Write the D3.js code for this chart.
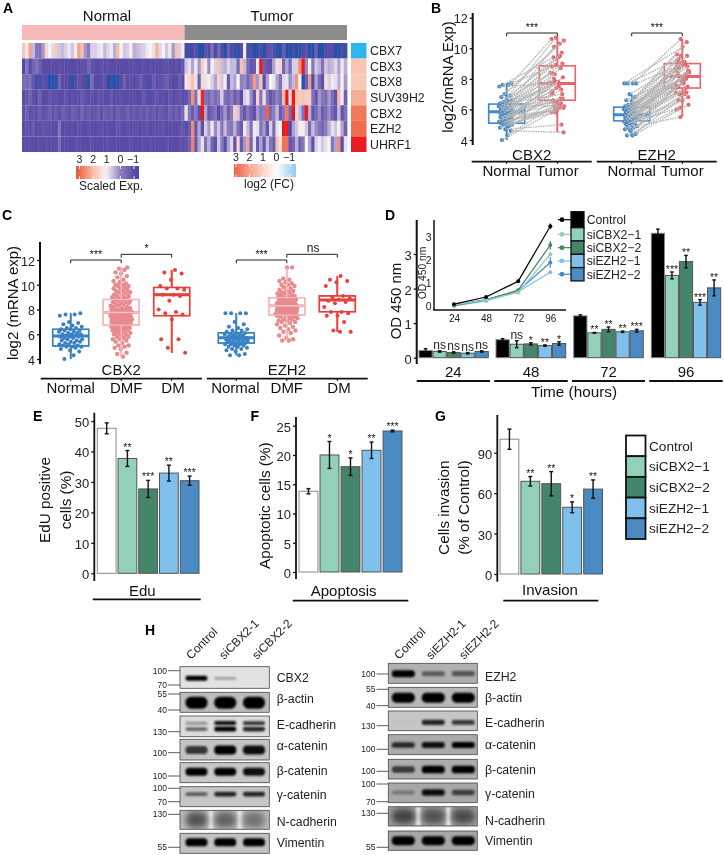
<!DOCTYPE html>
<html><head><meta charset="utf-8">
<script src="https://cdn.jsdelivr.net/npm/d3@7"></script>
<style>body{margin:0;background:#fff}svg{display:block;font-family:"Liberation Sans",Arial,sans-serif;filter:blur(.3px)}</style>
</head><body><script>
// ---------- DATA ----------
const genes=["CBX7","CBX3","CBX8","SUV39H2","CBX2","EZH2","UHRF1"];
const hmCBX7=[1.8,1,2.3,.5,-.2,-.3,.2,1.6,1.1,.8,1.8,.6,.5,.7,1,.6,1.2,2.3,1.9,.2,-.1,.7,.7,.9,1,.5,.8,1,.4,2,1.1,.6,.7,1.2,.4,.5,.6,.7,1,1.1,.9,2.1,.8,1.1,.6,1,.2,1.9,.7,1.2,
 -1.4,-1.4,-1.2,-1,-1.9,-1.9,-.9,-1.2,-.3,-1.2,-.5,-1.4,-1.9,-.6,-1.2,-1.7,-1.6,-1.1,1.2,-1.4,-1.2,-1.9,-1.6,-1.3,-1.8,-.9,-.8,-1.2,-1.7,-1.7,-.7,-1.9,-1.9,-1.3,-1.9,-1.7,-1.2,-.9,-1.9,-1.9,-.6,-1.9,-1.8,-1.2,-1,-1,-1.9,-1.8,-1.2,-1.5];
const hmCBX3=[-1.2,-.2,-1,-.5,-.3,-.7,-1,-1,-1,-1,-1,-.9,-1,-1,-1,-1.1,-1,-1,-.9,-.9,-.5,-.9,-1,-1,-.9,-1,-.9,-1,-1,-1,-1,-1,-1,-1,-.9,-1,-1,-1,-1,-.9,-1,-1,-1.1,-.9,-.9,-1,-1,-.9,-1,-.8,
 .6,.9,.3,1,.2,1.7,1,.1,1.1,.7,1.9,.5,.4,.8,.5,.5,-.4,1.9,.5,-.4,-.8,-.7,1.3,4.2,-.6,-.8,-.9,.3,.9,1.6,-.5,.3,-.4,.7,.7,2.6,4.2,.1,1.2,-.2,.6,.4,-.3,.6,.4,.5,.8,.3,1,.4];
const hmCBX8=[-.4,-.5,-.3,-.8,-1.5,-1.4,-.9,-1,-1.8,-1.9,-1.6,-.5,-1,-1,-1.2,-1.7,-1,-.9,-1,-1.2,-1.6,-.4,-1,-1.1,-1,-.9,-1.8,-1.4,-1.8,-1.7,-1,-.6,-1.1,-.9,-1,-.9,-.7,-1,-1.2,-1.1,-.7,-1,-.9,-.8,-.6,-.9,-1.1,-1,-.7,-1,
 1.3,1.5,1.9,.9,-.6,1.5,.9,1.2,.7,.3,1.6,.6,1.2,-.7,.5,.3,1.1,0,.1,-.5,0,2.4,.2,1.8,-.9,.3,1.1,.9,.3,-.3,.8,.9,.1,.5,2.5,1.2,-1.8,-.6,2.4,-1.2,.3,-.4,-.9,1.4,.7,1,.9,.4,1.2,.2];
const hmSUV=[-1,-.8,-.5,-.9,-1,-.6,-1,-1,-.8,-1,-.9,-1,-1,-.8,-1.1,-.9,-1,-1,-.7,-.9,-1,-.9,-1.1,-.8,-.9,-1.1,-1,-.7,-1,-1,-.9,-1,-1,-1,-.9,-1.1,-1,-.8,-1,-1.1,-.9,-.8,-1,-.9,-1.1,-.8,-1,-.9,-.8,-1,
 -.9,-.4,2.5,-.3,1.5,3.8,-.3,-.5,0,-.4,-.1,.7,-.3,-.5,-.1,-.7,-.3,-1,.7,.9,.1,-.8,1.6,-.2,.9,-.2,-.8,-.5,0,-.4,2,4,.8,4.1,1.9,1.8,1.8,1.7,1.7,-.3,-.8,.2,-.2,-.4,.2,-.3,-.9,2,1,-.6];
const hmCBX2=[-.9,-.6,-.9,-.8,-.9,-.7,-.9,-.8,-.6,-.9,-.7,-.9,-.6,-.8,-.9,-.6,-.7,-.9,-.5,-.8,-.7,-.9,-.8,-.6,-.9,-.7,-.8,-.6,-.9,-.7,-.8,-.8,-.6,-.9,-.7,-.8,-.7,-.9,-.6,-.8,-.7,-.9,-.7,-.8,-.9,-.6,-.8,-.6,-.8,-.5,
 .9,-.2,-.7,-.1,-.9,4.2,.3,-.8,-.5,-.2,-1,-.4,.2,-.6,-.1,1.7,.6,-.3,-.8,-.2,-.6,-.9,.2,-.3,-.1,3.1,-.4,-.1,.5,-.7,-.2,2.8,-.4,4.3,.8,.5,-.3,4,.4,-.8,-.4,.1,-.7,-.4,.1,-.5,-.8,.5,-.8,-.3];
const hmEZH2=[-1,-.9,-.9,-.7,-1,-1,-.8,-.9,-.9,-1,-1,-.2,-1,-1,-1,-.9,-1,-.9,-1,-1,-.9,-1,-1,-.9,-.9,-1,-.9,-1,-1,-.8,-.9,-1,-.9,-1,-.9,-.9,-1,-1,-.8,-1,-.9,-1,-.9,-.8,-1,-1,-.9,-1,-.9,-.8,
 -1,-.7,2.6,-.8,.3,-.9,.7,.2,1.3,.1,.6,-.2,.5,-.1,-.2,.4,-.3,-.7,1.3,.5,-.3,1,.9,-.2,.2,-.8,.7,-.4,.9,1.1,4.5,4.5,-1.2,.3,.6,1.2,1.2,.6,-.4,.5,.1,-.2,-.5,-.1,.4,.9,.6,1.2,.3,-.6];
const hmUHRF1=[-1,-1,-.9,-1,-1,-1,-1,-.9,-1,-1,-1,-.3,-1,-1,-1,-1,-.9,-1,-1,-1,-1,-.9,-1,-1,-1,-1,-.9,-1,-1,-1,-1,-1,-1,-.9,-1,-1,-1,-1,-1,-.9,-1,-1,-1,-1,-.9,-1,-1,-1,-.9,-1,
 -.9,-.5,2.7,-.8,.3,.9,-.3,.4,-.5,-.9,.6,-.1,-1,.3,.8,-.9,1.6,-.7,.2,2.3,-.5,.9,-.7,.3,-.8,.5,-.2,-.7,1.9,1.4,2.9,2.9,-.8,-.5,.4,-.6,-.2,1.1,.3,-.9,.7,1,.6,.9,1.1,-.2,.3,2.6,-1,.9];
const hmRows=[hmCBX7,hmCBX3,hmCBX8,hmSUV,hmCBX2,hmEZH2,hmUHRF1];
const hmTicks=[3,2,1,0,-1];

const cbx2Normal=[4.3,4.0,4.6,4.7,4.8,4.9,5,5,5,5.1,5.1,5.2,5.2,5.3,5.3,5.4,5.4,5.5,5.5,5.6,5.6,5.7,5.7,5.8,5.8,5.8,5.9,5.9,6,6,6,6.1,6.1,6.2,6.2,6.3,6.3,6.4,6.4,6.5,6.5,6.6,6.7,6.8,6.9,7,7.5,7.6,7.6,7.7];
const cbx2Tumor=[6.2,5.8,4.5,5.0,6.1,6.3,5.8,6.5,7,6.1,7.3,6.2,7.7,6,6.6,7.7,8.1,6.4,7.5,5.9,8.3,7,7.7,6.7,8.7,9.4,6.5,7.9,7.2,8.4,9,6.7,7.8,7.4,10.1,8.8,6.2,7,9.5,7.7,10.7,8,8.4,10.5,9.7,10.3,7.7,8.9,9.4,10.6];
const ezh2Normal=[4.3,4.3,4.4,4.6,4.7,4.8,4.8,4.9,5,5,5.1,5.1,5.2,5.2,5.2,5.3,5.3,5.4,5.4,5.4,5.5,5.5,5.5,5.6,5.6,5.6,5.7,5.7,5.7,5.8,5.8,5.9,5.9,6,6,6,6.1,6.1,6.2,6.3,6.3,6.4,6.5,6.6,6.8,7,7.7,7.7,7.7,7.7];
const ezh2Tumor=[6.6,6.0,6.3,7.1,7,6.6,5.5,7.5,7.4,6.8,8,7.3,7.7,6.1,8.2,7.1,8.5,7.4,7.9,8,7,8.4,8.6,7.5,8.9,7.7,8,9,8.2,7.6,8.8,8.3,9.1,7.9,8.7,9.2,8.4,9.5,8.1,8.9,9.5,9,9.6,8.5,10.4,9.1,10.1,10.6,9.3,8.8];
// box stats: [whisker low, q1, median, q3, whisker high]
const boxCbx2Paired=[[4,5.1,5.85,6.35,7.7],[4.5,6.6,7.7,8.85,10.7]];
const boxEzh2Paired=[[4.3,5.25,5.65,6.15,7.0],[5.5,7.4,8.15,9,10.6]];

const cbx2DMF=[4.2,4.4,4.5,4.8,4.9,5.0,5.1,5.1,5.3,5.4,5.5,5.6,5.6,5.7,5.8,5.8,5.9,6.0,6.0,6.1,6.1,6.2,6.2,6.3,6.3,6.3,6.4,6.4,6.5,6.5,6.5,6.6,6.6,6.6,6.7,6.7,6.7,6.8,6.8,6.8,6.9,6.9,6.9,6.9,7.0,7.0,7.0,7.0,7.1,7.1,7.1,7.1,7.2,7.2,7.2,7.2,7.3,7.3,7.3,7.3,7.4,7.4,7.4,7.4,7.5,7.5,7.5,7.5,7.6,7.6,7.6,7.7,7.7,7.7,7.8,7.8,7.8,7.9,7.9,7.9,8.0,8.0,8.0,8.1,8.1,8.2,8.2,8.3,8.3,8.4,8.4,8.5,8.5,8.6,8.6,8.7,8.7,8.8,8.8,8.9,8.9,9.0,9.0,9.1,9.1,9.2,9.2,9.3,9.4,9.4,9.5,9.5,9.6,9.7,9.7,9.8,9.9,9.9,10,10,10.1,10.2,10.3,10.4,10.6,10.7,10.9,11,11.2,11.3,11.4];
const cbx2DM=[11.2,11,10.9,10.4,9.9,9.7,9.7,9.6,9.2,9.2,9.1,8.7,8,7.8,7.7,7.6,7.2,5.6,5.6,4.9,4.5];
const ezh2DMF=[5.5,5.5,5.6,5.7,5.9,6.1,6.2,6.3,6.4,6.5,6.6,6.7,6.8,6.9,7.0,7.0,7.1,7.1,7.2,7.2,7.3,7.3,7.4,7.4,7.5,7.5,7.5,7.6,7.6,7.6,7.7,7.7,7.7,7.7,7.8,7.8,7.8,7.8,7.9,7.9,7.9,7.9,8.0,8.0,8.0,8.0,8.0,8.1,8.1,8.1,8.1,8.2,8.2,8.2,8.2,8.2,8.3,8.3,8.3,8.3,8.4,8.4,8.4,8.4,8.5,8.5,8.5,8.5,8.6,8.6,8.6,8.7,8.7,8.7,8.8,8.8,8.8,8.9,8.9,8.9,9.0,9.0,9.0,9.1,9.1,9.2,9.2,9.3,9.3,9.4,9.4,9.5,9.5,9.6,9.7,9.8,9.9,10,10,10.1,10.2,10.3,10.4,10.5,11.4,11.4];
const ezh2DM=[10.7,10.4,10.3,10.2,9.9,9.1,9.0,8.9,8.8,8.7,8.6,8.5,8.2,7.8,7.8,7.7,7.5,7.5,7,6.3,6.2,6.2];
const groupsC=["Normal","DMF","DM"];
const boxCbx2C=[[4,5.05,5.85,6.4,7.7],[4.2,6.74,7.76,8.81,11.4],[4.5,7.5,9.2,9.78,11.2]];
const boxEzh2C=[[4.3,5.29,5.72,6.12,7.7],[5.5,7.55,8.3,8.95,11.4],[6.2,7.82,8.76,9.1,10.7]];

const arms=["Control","siCBX2\u22121","siCBX2\u22122","siEZH2\u22121","siEZH2\u22122"];
const times=[24,48,72,96];
const odMeans=[[.21,.18,.15,.13,.18],[.52,.39,.40,.35,.41],[1.21,.72,.82,.75,.78],[3.6,2.38,2.78,1.6,2.02]];
const odErrs=[[.05,.02,.02,.02,.02],[.03,.1,.03,.02,.05],[.03,.01,.07,.02,.04],[.12,.1,.18,.08,.23]];
const odSig=[["","ns","ns","ns","ns"],["","ns","*","**","*"],["","**","**","**","***"],["","***","**","***","**"]];
const eduMeans=[47.6,37.7,27.7,32.9,30.4], eduErrs=[1.8,2.6,2.8,2.6,1.5], eduSig=["","**","***","**","***"];
const apoMeans=[13.8,20,18,20.8,24.1], apoErrs=[.45,2.3,1.5,1.4,.15], apoSig=["","*","*","**","***"];
const invMeans=[100,68.8,67,49.5,63], invErrs=[7.5,3.5,9,4,6.8], invSig=["","**","**","*","**"];

// western blots: band darkness per lane (0 none .. 1 black)
const blotLeftNames=["CBX2","\u03b2-actin","E-cadherin","\u03b1-catenin","\u03b2-catenin","\u03b3-catenin","N-cadherin","Vimentin"];
const blotRightNames=["EZH2","\u03b2-actin","E-cadherin","\u03b1-catenin","\u03b2-catenin","\u03b3-catenin","N-cadherin","Vimentin"];
const blotLeftDark=[[1,.3,0],[1,1,1],[.55,1,.85],[.75,1,.95],[1,1,.95],[.55,.85,.85],[.58,.48,.4],[1,1,1]];
const blotLeftUpper=[null,null,[.35,.95,.8],null,null,null,null,null];
const blotRightDark=[[1,.5,.55],[1,1,1],[.03,.85,.75],[.8,.95,1],[.7,1,1],[.3,.95,.65],[.6,.5,.55],[1,1,1]];
const lanesLeft=["Control","siCBX2-1","siCBX2-2"], lanesRight=["Control","siEZH2-1","siEZH2-2"];
const mwLeftText=["100","70","55","40","130","100","100","100","70","130","55"];
const mwRightText=["100","55","40","130","100","100","100","70","130","55"];

// ---------- LAYOUT / STYLE ----------
const geneColors=["#2db5ee","#f9c4b0","#f9c9b8","#f6ae98","#f07a58","#ef6d4e","#e81c24"];
const armColors=["#000000","#93d0b8","#45866b","#7fc1ec","#4a8bc3"];
const jit=(i,w)=>(((i+1)*0.61803398875)%1-.5)*2*w;   // visual spread only

const svg=d3.select("body").append("svg").attr("width",724).attr("height",855);
const defs=svg.append("defs");
function T(g,x,y,s,o={}){
  const t=g.append("text").attr("x",x).attr("y",y).text(s)
    .attr("font-size",o.size||12).attr("text-anchor",o.anchor||"start").attr("fill",o.fill||"#111");
  if(o.weight)t.attr("font-weight",o.weight);
  if(o.rot!==undefined)t.attr("x",null).attr("y",null).attr("transform",`translate(${x},${y}) rotate(${o.rot})`);
  return t;
}
function L(g,x1,y1,x2,y2,c="#111",w=1){return g.append("line").attr("x1",x1).attr("y1",y1).attr("x2",x2).attr("y2",y2).attr("stroke",c).attr("stroke-width",w);}
function yAxis(g,x,scale,ticks,top,bot,size,w=2){
  const a=g.append("g").attr("transform",`translate(${x},0)`)
    .call(d3.axisLeft(scale).tickValues(ticks).tickFormat(d3.format("d")).tickSize(3).tickPadding(2).tickSizeOuter(0));
  a.attr("font-family",null);
  a.select(".domain").remove();
  a.selectAll(".tick line").attr("stroke","#111").attr("stroke-width",1.3);
  a.selectAll(".tick text").attr("font-size",size).attr("fill","#222").attr("dy","0.42em");
  L(g,x,top,x,bot,"#111",w);
  return a;
}
[["A",3,13],["B",431,12.5],["C",2,220],["D",385,220],["E",33,421],["F",250.5,421],["G",435,421],["H",145,635]]
 .forEach(d=>T(svg,d[1],d[2],d[0],{size:14,weight:"bold",fill:"#000"}));

// ---------- Panel A ----------
(function(){
 const g=svg.append("g");
 const x=d3.scaleBand().domain(d3.range(100)).range([22,347]);
 const y=d3.scaleBand().domain(genes).range([43,152]);
 const hmColor=d3.scaleLinear().domain([-2,-1,0,.6,1.1,2,3,4]).range(["#1e50a8","#5a4ca6","#8f80c0","#d0c5e3","#f7f3f5","#f8bba5","#ea6a4f","#e81a1a"]).clamp(true);
 const fcColor=d3.scaleLinear().domain([-1.45,-.6,0,1,2,3,3.2]).range(["#8fcaf0","#cfe6f7","#ffffff","#fbd3c4","#f6a68e","#ee6a50","#ec6047"]).clamp(true);
 g.append("rect").attr("x",22).attr("y",25).attr("width",x(50)-22).attr("height",15).attr("fill","#f6baba");
 g.append("rect").attr("x",x(50)).attr("y",25).attr("width",347-x(50)).attr("height",15).attr("fill","#8c8c8c");
 T(g,107,21,"Normal",{size:15,anchor:"middle"});
 T(g,272,21,"Tumor",{size:15,anchor:"middle"});
 genes.forEach((gn,r)=>{
  g.append("g").selectAll("rect").data(hmRows[r]).join("rect")
   .attr("x",(d,i)=>x(i)).attr("y",y(gn)).attr("width",x.bandwidth()+.4).attr("height",y.bandwidth())
   .attr("fill",d=>hmColor(d));
  g.append("rect").attr("x",351).attr("y",y(gn)).attr("width",15.5).attr("height",y.bandwidth()).attr("fill",geneColors[r]);
  T(g,370,y(gn)+y.bandwidth()/2+4.5,gn,{size:12.3,fill:"#222"});
 });
 function legend(id,x0,x1,yTop,h,scale,tk,color,label,lx,ly){
  const gr=defs.append("linearGradient").attr("id",id);
  const dom=d3.range(21).map(i=>scale.invert(x0+(x1-x0)*i/20));
  gr.selectAll("stop").data(dom).join("stop").attr("offset",(d,i)=>i*5+"%").attr("stop-color",d=>color(d));
  g.append("rect").attr("x",x0).attr("y",yTop).attr("width",x1-x0).attr("height",h).attr("fill",`url(#${id})`);
  tk.forEach(v=>{
   L(g,scale(v),yTop,scale(v),yTop+3,"#fff",.8);L(g,scale(v),yTop+h-3,scale(v),yTop+h,"#fff",.8);
   T(g,scale(v)+(v<0?-1:0),yTop-3,String(v).replace("-","\u2212"),{size:10.5,anchor:"middle",fill:"#222"});
  });
  T(g,lx,ly,label,{size:12,anchor:"middle",fill:"#222"});
 }
 legend("lgA",76,139,166,13,d3.scaleLinear().domain([3,-1]).range([79.5,134]),hmTicks,hmColor,"Scaled Exp.",111,190);
 legend("lgB",234,296,164,13,d3.scaleLinear().domain([3,-1]).range([236,290]),hmTicks,fcColor,"log2 (FC)",269,188);
})();

function drawBox(g,cx,st,y,color,hw=18,sw=1.6,medw=3){
 L(g,cx,y(st[0]),cx,y(st[1]),color,sw+.3);L(g,cx,y(st[3]),cx,y(st[4]),color,sw+.3);
 g.append("rect").attr("x",cx-hw).attr("y",y(st[3])).attr("width",hw*2).attr("height",y(st[1])-y(st[3])).attr("fill","none").attr("stroke",color).attr("stroke-width",sw);
 L(g,cx-hw,y(st[2]),cx+hw,y(st[2]),color,medw);
}
function bracket(g,x1,x2,yy,drop=3.3){
 g.append("path").attr("d",`M${x1},${yy+drop}V${yy}H${x2}V${yy+drop}`).attr("fill","none").attr("stroke","#222").attr("stroke-width",1);
}

// ---------- Panel B ----------
(function(){
 const g=svg.append("g");
 const y=d3.scaleLinear().domain([4,12]).range([140,17.7]);
 const blue="#3f87c8",red="#e8636a";
 const facets=[
  {name:"CBX2",n:cbx2Normal,t:cbx2Tumor,box:boxCbx2Paired,x:d3.scalePoint().domain(["Normal","Tumor"]).range([506.7,557.3]),a:471.7,b:591.7},
  {name:"EZH2",n:ezh2Normal,t:ezh2Tumor,box:boxEzh2Paired,x:d3.scalePoint().domain(["Normal","Tumor"]).range([631.7,682.3]),a:596.7,b:716.7}];
 yAxis(g,472.7,y,[4,6,8,10,12],13,145,12.5);
 T(g,452.5,77,"log2(mRNA Exp)",{size:15,anchor:"middle",rot:-90,fill:"#111"});
 facets.forEach(f=>{
  const xn=f.x("Normal"),xt=f.x("Tumor");
  drawBox(g,xn,f.box[0],y,blue);drawBox(g,xt,f.box[1],y,red);
  const px=(i)=>xn+jit(i,7)-1, qx=(i)=>xt+jit(i*3+1,7);
  g.append("g").selectAll("circle").data(f.n).join("circle").attr("cx",(d,i)=>px(i)).attr("cy",d=>y(d)).attr("r",2.1).attr("fill",blue);
  g.append("g").selectAll("circle").data(f.t).join("circle").attr("cx",(d,i)=>qx(i)).attr("cy",d=>y(d)).attr("r",2.1).attr("fill",red);
  g.append("g").selectAll("line").data(f.n).join("line")
   .attr("x1",(d,i)=>px(i)).attr("y1",d=>y(d)).attr("x2",(d,i)=>qx(i)).attr("y2",(d,i)=>y(f.t[i]))
   .attr("stroke","#b6b6b6").attr("stroke-width",1.4).attr("stroke-dasharray","1.6,.9");
  bracket(g,xn,xt,33);
  T(g,(xn+xt)/2,31,"***",{size:10.5,anchor:"middle"});
  T(g,(f.a+f.b)/2,160,f.name,{size:15,anchor:"middle"});
  L(g,f.a,161.7,f.b,161.7,"#111",1.8);
  L(g,xn,161.7,xn,164,"#111",1);L(g,xt,161.7,xt,164,"#111",1);
  T(g,xn,176,"Normal",{size:15,anchor:"middle"});
  T(g,xt,176,"Tumor",{size:15,anchor:"middle"});
 });
})();

// ---------- Panel C ----------
(function(){
 const g=svg.append("g");
 const y=d3.scaleLinear().domain([4,12]).range([359,260]);
 const colors=["#3a80c4","#e88a8e","#e8403a"], boxCol=["#3a80c4","#f0a3a3","#e8403a"];
 const facets=[
  {name:"CBX2",d:[cbx2Normal,cbx2DMF,cbx2DM],box:boxCbx2C,x:d3.scalePoint().domain(groupsC).range([70.7,171.7]),a:40.7,b:202,sig:"*",off:[0,5,1.3]},
  {name:"EZH2",d:[ezh2Normal,ezh2DMF,ezh2DM],box:boxEzh2C,x:d3.scalePoint().domain(groupsC).range([236.3,337.3]),a:206.7,b:367.7,sig:"ns",off:[-1,0,1.7]}];
 yAxis(g,40,y,[4,6,8,10,12],242,364,12.5);
 T(g,17.7,303,"log2 (mRNA exp)",{size:15,anchor:"middle",rot:-90,fill:"#111"});
 const spread=[12,11.5,14];
 facets.forEach(f=>{
  groupsC.forEach((gr,k)=>{
   const cx=f.x(gr);
   drawBox(g,cx,f.box[k],y,boxCol[k]);
   g.append("g").selectAll("circle").data(f.d[k]).join("circle")
    .attr("cx",(d,i)=>cx+jit(i,spread[k]*(k==1?1-Math.abs(d-7.6)/9:1))).attr("cy",d=>y(d)).attr("r",k==1?2.2:2).attr("fill",colors[k]);
   drawBox(g,cx,f.box[k],y,k==1?"#f3c4c4":boxCol[k],18,1,k==1?1.6:2);
   L(g,cx,378.7,cx,381,"#111",1);
   T(g,cx+f.off[k],393,gr,{size:15,anchor:"middle"});
  });
  const a=f.x("Normal"),b=f.x("DMF"),c=f.x("DM");
  bracket(g,a,b,260);bracket(g,b,c,254.3);
  T(g,(a+b)/2,258,"***",{size:10.5,anchor:"middle"});
  if(f.sig=="*")T(g,(b+c)/2,252,"*",{size:10.5,anchor:"middle"});
  else T(g,(b+c)/2+1,251.5,"ns",{size:12,anchor:"middle"});
  T(g,b,375,f.name,{size:15,anchor:"middle"});
  L(g,f.a,378.7,f.b,378.7,"#111",1.8);
 });
})();

// ---------- bars helper ----------
function bars(g,x,y,means,errs,sig,o={}){
 const base=y(0);
 g.append("g").selectAll("rect").data(means).join("rect")
  .attr("x",(d,i)=>x(arms[i])).attr("y",d=>y(d)).attr("width",x.bandwidth()).attr("height",d=>base-y(d))
  .attr("fill",(d,i)=>o.first&&i==0?o.first:armColors[i]).attr("stroke",(d,i)=>i==0?"#888":"#555").attr("stroke-width",1);
 means.forEach((m,i)=>{
  const cx=x(arms[i])+x.bandwidth()/2,cap=o.cap||2,col="#111";
  L(g,cx,y(m-errs[i]),cx,y(m+errs[i]),col,1.4);
  L(g,cx-cap,y(m-errs[i]),cx+cap,y(m-errs[i]),col,1.4);L(g,cx-cap,y(m+errs[i]),cx+cap,y(m+errs[i]),col,1.4);
  if(sig[i]=="ns")T(g,cx,y(m+errs[i])-2,"ns",{size:12,anchor:"middle",fill:"#222"});
  else if(sig[i])T(g,cx,y(m+errs[i])+(o.sigOff||0),sig[i],{size:10.5,anchor:"middle",fill:"#222"});
 });
}

// ---------- Panel D ----------
(function(){
 const g=svg.append("g");
 const y=d3.scaleLinear().domain([0,3]).range([357.7,254]);
 yAxis(g,416.7,y,[0,1,2,3],220,364,13);
 T(g,400.5,301,"OD 450 nm",{size:15,anchor:"middle",rot:-90});
 const fx=[[419,488.3],[496,565.7],[573.7,643.3],[651.3,720.7]];
 const ln=[[416.7,490],[494.3,567.7],[572,645],[649.3,722.7]];
 times.forEach((t,k)=>{
  const x=d3.scaleBand().domain(arms).range(fx[k]).paddingInner(.06);
  bars(g,x,y,odMeans[k],odErrs[k],odSig[k],{cap:1.8,sigOff:1});
  T(g,(ln[k][0]+ln[k][1])/2,377,String(t),{size:15,anchor:"middle"});
  L(g,ln[k][0],381,ln[k][1],381,"#111",1.8);
 });
 T(g,574,397,"Time (hours)",{size:15.3,anchor:"middle"});
 // inset
 const ix=d3.scalePoint().domain(times).range([454,550.3]);
 const iy=d3.scaleLinear().domain([0,3]).range([309,240]);
 const a=g.append("g").attr("transform","translate(0,310)").call(d3.axisBottom(ix).tickSize(0).tickPadding(5));
 a.attr("font-family",null);
 a.select(".domain").remove();a.selectAll("text").attr("font-size",10).attr("fill","#222");
 L(g,434,220,434,310.5,"#111",1.5);L(g,433.3,310,566,310,"#111",1.5);
 [0,1,2,3].forEach(v=>T(g,431.5,iy(v)+1,String(v),{size:10.5,anchor:"end",fill:"#222"}));
 T(g,426,273,"OD 450 nm",{size:10.3,anchor:"middle",rot:-90,fill:"#222"});
 const line=d3.line().x((d,i)=>ix(times[i])).y(d=>iy(d));
 [4,3,2,1,0].forEach(s=>{
  const v=odMeans.map(r=>r[s]);
  g.append("path").attr("d",line(v)).attr("fill","none").attr("stroke",armColors[s]).attr("stroke-width",1.2);
  g.append("g").selectAll("circle").data(v).join("circle").attr("cx",(d,i)=>ix(times[i])).attr("cy",d=>iy(d)).attr("r",2).attr("fill",armColors[s]);
  v.forEach((d,i)=>L(g,ix(times[i]),iy(d-odErrs[i][s]),ix(times[i]),iy(d+odErrs[i][s]),armColors[s],1.2));
 });
 // legend
 const ly=[211.7,227.7,241,254.3,267.6],lh=[16,13.3,13.3,13.3,13.3];
 arms.forEach((n,i)=>{
  L(g,558,ly[i]+lh[i]/2,571,ly[i]+lh[i]/2,armColors[i],1.2);
  g.append("circle").attr("cx",562).attr("cy",ly[i]+lh[i]/2).attr("r",2.4).attr("fill",armColors[i]);
  g.append("rect").attr("x",571).attr("y",ly[i]).attr("width",13).attr("height",lh[i]).attr("fill",armColors[i]).attr("stroke","#111").attr("stroke-width",1.3);
  T(g,586.7,ly[i]+lh[i]/2+4.3,n,{size:12.2,fill:"#222"});
 });
})();

// ---------- Panels E F G ----------
(function(){
 const g=svg.append("g");
 // E
 let y=d3.scaleLinear().domain([0,50]).range([573.3,421]);
 yAxis(g,94.3,y,[0,10,20,30,40,50],412.7,581,13,1.8);
 let x=d3.scaleBand().domain(arms).range([97.3,199]).paddingInner(.095);
 bars(g,x,y,eduMeans,eduErrs,eduSig,{first:"#fff",cap:2,sigOff:0});
 T(g,50,500,"EdU positive",{size:15.3,anchor:"middle",rot:-90});
 T(g,70.5,500,"cells (%)",{size:15.3,anchor:"middle",rot:-90});
 T(g,142.3,595.7,"Edu",{size:15,anchor:"middle"});
 L(g,92.7,599.3,200.7,599.3,"#111",1.8);
 // F
 y=d3.scaleLinear().domain([0,25]).range([572,425.7]);
 yAxis(g,296,y,[0,5,10,15,20,25],417,579,13,1.8);
 x=d3.scaleBand().domain(arms).range([299,402]).paddingInner(.1);
 bars(g,x,y,apoMeans,apoErrs,apoSig,{first:"#fff",cap:2,sigOff:0});
 T(g,270,505.7,"Apoptotic cells (%)",{size:15.3,anchor:"middle",rot:-90});
 T(g,343.7,595.7,"Apoptosis",{size:15,anchor:"middle"});
 L(g,292.7,600.7,408.3,600.7,"#111",1.8);
 // G
 y=d3.scaleLinear().domain([0,90]).range([574,452.7]);
 yAxis(g,497.3,y,[0,30,60,90],415,581.7,13,1.8);
 x=d3.scaleBand().domain(arms).range([500,602.5]).paddingInner(.1);
 bars(g,x,y,invMeans,invErrs,invSig,{first:"#fff",cap:2,sigOff:0});
 T(g,449,507.7,"Cells invasion",{size:15.3,anchor:"middle",rot:-90});
 T(g,469,507.7,"(% of Control)",{size:15.3,anchor:"middle",rot:-90});
 T(g,550,595,"Invasion",{size:15,anchor:"middle"});
 L(g,503.3,600.7,598.3,600.7,"#111",1.8);
 // legend
 const ly=d3.scaleBand().domain(arms).range([435.5,539]);
 arms.forEach((n,i)=>{
  g.append("rect").attr("x",626).attr("y",ly(n)).attr("width",19.5).attr("height",ly.bandwidth())
   .attr("fill",i==0?"#fff":armColors[i]).attr("stroke","#111").attr("stroke-width",1.8);
  T(g,649,ly(n)+ly.bandwidth()/2+4.7,n,{size:13.6,fill:"#222"});
 });
})();

// ---------- Panel H ----------
(function(){
 const g=svg.append("g");
 const blur=(id,s)=>defs.append("filter").attr("id",id).attr("x","-30%").attr("y","-80%").attr("width","160%").attr("height","260%").append("feGaussianBlur").attr("stdDeviation",s);
 blur("b1",1.2);blur("b3",3);
 function blots(cfg){
  const x=d3.scalePoint().domain(cfg.lanes).range(cfg.laneX);
  cfg.names.forEach((nm,r)=>{
   const [t,b]=cfg.rows[r];
   const cid=cfg.id+r;
   defs.append("clipPath").attr("id",cid).append("rect").attr("x",cfg.x0).attr("y",t).attr("width",cfg.x1-cfg.x0).attr("height",b-t);
   const bl=g.append("g").attr("clip-path",`url(#${cid})`);
   const bg=cfg.bg[r];
   bl.append("rect").attr("x",cfg.x0).attr("y",t).attr("width",cfg.x1-cfg.x0).attr("height",b-t).attr("fill",bg);
   const shade=d3.interpolateRgb(bg,"#050505");
   const isN=nm=="N-cadherin";
   if(isN) [(x(cfg.lanes[0])+x(cfg.lanes[1]))/2,(x(cfg.lanes[1])+x(cfg.lanes[2]))/2].forEach(gx=>
     bl.append("rect").attr("x",gx-2.5).attr("y",t).attr("width",5).attr("height",b-t).attr("fill","#ececec").attr("filter","url(#b1)"));
   const h=cfg.thick[r], cy=t+cfg.center[r]*(b-t);
   cfg.dark[r].forEach((v,i)=>{
    const th=h*(isN?1:Math.min(1,.4+v*.65));
    bl.append("rect").attr("x",x(cfg.lanes[i])-cfg.hw).attr("y",cy-th/2).attr("width",cfg.hw*2).attr("height",th).attr("rx",th/2.2)
      .attr("fill",shade(v)).attr("filter",isN?"url(#b3)":"url(#b1)");
    if(cfg.upper&&cfg.upper[r])
     bl.append("rect").attr("x",x(cfg.lanes[i])-cfg.hw).attr("y",cy-th/2-5.5).attr("width",cfg.hw*2).attr("height",th*.8).attr("rx",th/3)
      .attr("fill",shade(cfg.upper[r][i])).attr("filter","url(#b1)");
   });
   g.append("rect").attr("x",cfg.x0).attr("y",t).attr("width",cfg.x1-cfg.x0).attr("height",b-t).attr("fill","none").attr("stroke","#444").attr("stroke-width",.8);
   T(g,cfg.labelX,cfg.labelY[r],nm,{size:12.3,fill:"#222"});
  });
  cfg.mwText.forEach((s,i)=>{
   const yy=cfg.mwY[i];
   T(g,cfg.mwX,yy+3,s,{size:8.5,anchor:"end",fill:"#222"});
   L(g,cfg.mwX+1,yy,cfg.x0,yy,"#333",.8);
  });
  cfg.lanes.forEach((n,i)=>T(g,cfg.labX[i],660,n,{size:12,rot:-45,fill:"#222"}));
 }
 blots({id:"hl",names:blotLeftNames,lanes:lanesLeft,dark:blotLeftDark,upper:blotLeftUpper,x0:180,x1:269.3,
  laneX:[196.5,254],hw:11,
  rows:[[666.7,688.3],[692.3,712.3],[716,736.7],[739.3,760],[762.7,782.7],[786.7,806.7],[810.3,829.3],[833.3,853.3]],
  bg:["#e2e2e2","#bdbdbd","#dddddd","#c4c4c4","#c8c8c8","#c6c6c6","#bcbcbc","#c2c2c2"],
  thick:[5,12,5,9,8,5,16,8],center:[.54,.52,.63,.52,.45,.37,.5,.45],
  labelX:276.7,labelY:[681.7,702.7,729,750,774.7,798.7,825.7,846.7],
  mwText:mwLeftText,mwY:[670.7,685,694,710,731.7,752.7,776,788.3,801.7,814.3,847.3],mwX:167,
  labX:[191,224,257]});
 blots({id:"hr",names:blotRightNames,lanes:lanesRight,dark:blotRightDark,x0:388.3,x1:477.3,
  laneX:[403.3,463.3],hw:11.5,
  rows:[[663.3,683.3],[687.3,707.3],[711,730.7],[734.7,754.7],[759.3,779],[783,802.7],[806.7,826],[831,850.3]],
  bg:["#b0b0b0","#b8b8b8","#c6c6c6","#ababab","#adadad","#a8a8a8","#a0a0a0","#a6a6a6"],
  thick:[7,10,5.5,6,7.5,6.5,15,9],center:[.52,.52,.58,.52,.52,.48,.5,.5],
  labelX:485,labelY:[680.7,701.7,727.3,749,774,798,824.7,845],
  mwText:mwRightText,mwY:[674,689.3,705.7,725.7,749.3,771.3,784,801.7,813.3,847.3],mwX:375.5,
  labX:[399,431,464]});
})();
</script></body></html>
